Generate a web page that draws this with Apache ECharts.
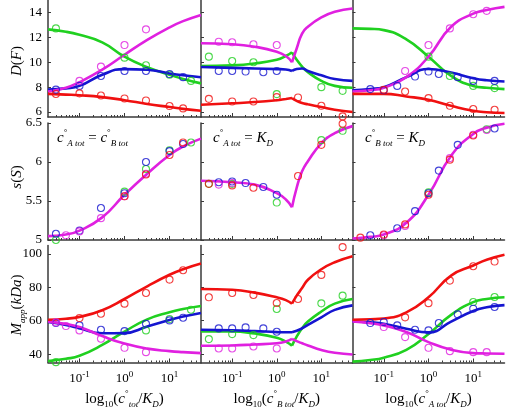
<!DOCTYPE html>
<html><head><meta charset="utf-8">
<script src="https://cdn.jsdelivr.net/npm/echarts@6/dist/echarts.min.js"></script>
<style>html,body{margin:0;padding:0;background:#fff}#c{width:506px;height:410px}</style>
</head><body><div id="c"></div>
<script>
// ---------- x positions ----------
const xFit  = [0.02, 0.05, 0.1, 0.32, 1, 3.2, 10, 20, 50];
const xFitL = [0.02, 0.1, 0.32, 1, 1.6, 2.2];          // middle column, left of kink
const xFitR = [2.2, 2.8, 3.7, 5, 10, 20, 50];           // middle column, right of kink
const xPts1 = [0.03, 0.05, 0.1, 0.3, 1, 3, 10, 20, 30];
const xPts2 = [0.03, 0.05, 0.1, 0.2, 0.3, 0.5, 1, 3, 10, 30];
const xPts3 = [0.03, 0.05, 0.1, 0.2, 0.3, 0.5, 1, 1.7, 3, 4.5, 10, 20, 30];
const xMajor = [0.1, 1, 10];
const xMinor = [0.03,0.04,0.05,0.06,0.07,0.08,0.09,0.2,0.3,0.4,0.5,0.6,0.7,0.8,0.9,2,3,4,5,6,7,8,9,20,30,40];

// ---------- y axes ----------
const yRange = [[5.6, 15], [5, 6.5], [35, 105]];
const yTicks = [[6, 8, 10, 12, 14], [5, 5.5, 6, 6.5], [40, 60, 80, 100]];

// ---------- row 1 : D(F) ----------
const fitD1 = { green:[12.64,12.45,12.2,11.6,10.45,9.6,9.0,8.65,8.3], blue:[7.8,7.9,8.1,9.0,9.45,9.4,9.1,8.95,8.8],
  magenta:[7.65,7.95,8.4,9.4,10.6,11.8,12.8,13.3,13.8], red:[7.46,7.4,7.35,7.2,6.95,6.65,6.4,6.25,6.1] };
const fitD2L = { green:[9.7,9.75,9.9,10.2,10.5,10.8], blue:[9.62,9.55,9.5,9.45,9.42,9.3],
  magenta:[11.52,11.45,11.25,10.85,10.5,10.0], red:[6.58,6.7,6.8,6.95,7.05,7.12] };
const fitD2R = { green:[10.8,10.2,9.65,9.2,8.5,8.1,7.95], blue:[9.3,9.45,9.5,9.3,8.95,8.65,8.5],
  magenta:[10.0,11.1,12.3,12.85,13.6,14.05,14.32], red:[7.12,6.9,6.72,6.62,6.4,6.18,6.0] };
const fitD3 = { green:[12.72,12.68,12.58,11.84,10.45,8.9,8.1,7.95,7.84], blue:[7.75,7.85,8.0,8.8,9.46,9.17,8.72,8.55,8.45],
  magenta:[7.65,7.75,7.95,8.8,10.45,12.85,13.9,14.2,14.45], red:[7.46,7.46,7.46,7.25,6.98,6.5,6.1,5.98,5.92] };
const ptsD1 = { green:[12.72,null,null,null,10.37,9.76,9.0,null,8.5], blue:[7.8,null,8.1,8.9,9.3,9.3,9.05,8.8,null],
  magenta:[null,null,8.5,9.65,11.38,12.64,null,null,null], red:[7.45,null,7.5,7.33,7.09,6.93,6.48,6.29,null] };
const ptsD2 = { green:[10.45,null,10.1,null,10.0,null,7.44,null,8.0,7.7], blue:[null,9.3,9.3,9.25,null,9.2,9.3,null,null,null],
  magenta:[null,11.65,11.6,null,11.44,null,11.38,null,null,null], red:[7.06,null,6.85,null,6.85,null,7.2,7.17,6.5,5.65] };
const ptsD3 = { green:[null,null,null,null,null,null,10.45,null,8.9,null,8.1,null,7.92],
  blue:[null,7.84,7.75,8.1,null,8.85,9.25,9.06,null,8.8,8.5,null,8.5],
  magenta:[null,null,null,null,9.3,null,11.38,null,12.72,null,13.86,14.13,null],
  red:[null,null,7.78,null,7.65,null,7.12,null,6.5,null,6.24,null,6.18] };

// ---------- row 2 : s(S) ----------
const fitS1 = { magenta:[5.05,5.07,5.12,5.29,5.58,5.85,6.09,6.2,6.3] };
const fitS2L = { magenta:[5.76,5.74,5.71,5.6,5.52,5.42] };
const fitS2R = { magenta:[5.42,5.67,5.88,6.01,6.24,6.37,6.46] };
const fitS3 = { magenta:[5.02,5.04,5.07,5.22,5.58,6.08,6.36,6.44,6.49] };
const ptsS1 = { green:[5.0,null,null,null,5.62,5.91,6.15,null,6.25], blue:[5.08,null,5.12,5.41,5.6,6.0,6.14,6.23,null],
  magenta:[null,5.06,5.11,5.28,5.56,5.85,null,null,null], red:[null,null,null,null,5.56,5.84,6.09,6.25,null] };
const ptsS2 = { green:[5.72,null,5.72,null,null,null,5.48,null,6.28,6.4], blue:[null,5.74,5.75,5.73,null,5.68,5.58,null,null,null],
  magenta:[null,5.71,5.73,null,null,null,null,null,null,null], red:[5.72,null,5.70,null,5.67,null,null,5.82,6.22,6.49] };
const ptsS3 = { green:[null,null,null,null,null,null,5.61,null,null,null,null,6.42,null],
  blue:[null,5.06,null,5.15,null,5.37,5.6,5.89,null,6.22,null,null,6.43],
  magenta:[null,null,5.06,null,5.18,null,null,null,6.05,null,6.35,6.41,null],
  red:[5.03,null,5.07,null,5.2,null,5.58,null,6.03,null,6.34,null,null] };

// ---------- row 3 : M_app(kDa) ----------
const fitM1 = { green:[35.8,37.2,39,45.5,53.5,60.8,65.1,67,68.8], blue:[59.3,57.5,55.5,52.5,52.6,56.5,60.5,62.5,64.6],
  magenta:[59.6,58,56.2,50.8,46.3,43.3,41.8,41.2,40.6], red:[60.6,61.2,62.3,66.3,73,80.6,87.5,90.8,94.2] };
const fitM2L = { green:[53.6,53.6,52.3,49.8,47.5,45.1], blue:[54.6,54.3,53.8,53.2,53.1,53.1],
  magenta:[45,45.2,45.8,46.5,47.6,49.2], red:[79,78.5,76.8,74,72.3,70.2] };
const fitM2R = { green:[45.1,50.5,55.5,59.5,65.5,70.2,73], blue:[53.1,54,55.5,57.5,62,66.5,69.2],
  magenta:[49.2,47.8,46.5,45.2,42.5,40.8,39.8], red:[70.2,75,79.5,84.5,90.8,95,98.6] };
const fitM3 = { green:[35.5,36.5,37.9,42.6,52,63.5,71.1,73,74], blue:[59.5,59,58.2,55.2,53,59.5,65.8,68,69.3],
  magenta:[59.6,58.5,57.2,53.2,47.2,42.6,40.6,40.4,40.2], red:[60.6,60.9,61.3,65,74,87,93,96.5,99.5] };
const ptsM1 = { green:[35.2,null,null,null,null,54.2,61,null,66.6], blue:[58.6,null,57.2,54.6,53.8,58.2,60.2,61.8,null],
  magenta:[59,56.8,54.2,49.2,43.8,41.2,null,null,null], red:[null,null,61.6,64.2,70.2,76.6,84.6,90.2,null] };
const ptsM2 = { green:[49,null,52,null,51.4,null,67,null,70.4,75], blue:[null,55.4,55.4,56,null,55.4,53.4,null,null,null],
  magenta:[null,43.4,43.4,null,44.6,null,43.4,null,null,null], red:[74,null,76.6,null,75.4,null,70.6,73,87.4,104] };
const ptsM3 = { green:[null,null,null,null,null,null,null,null,null,null,71.2,null,74.2],
  blue:[null,58.6,59.2,57.2,null,54.6,54.2,58.6,null,63.8,67.2,null,68.2],
  magenta:[null,null,56.2,null,50.2,null,43.8,null,41.8,null,41.2,41.2,null],
  red:[null,null,null,null,62,null,70.5,null,84,null,92.6,null,95.4] };

// ---------- styling / layout ----------
const COLORS = { green:'#20d020', blue:'#1515d0', magenta:'#e020e0', red:'#f01010' };
const ORDER = ['green','blue','magenta','red'];
const SERIF = "'Liberation Serif','DejaVu Serif',serif";
const colL = [48, 201, 352.5], colW = [153, 151.5, 152];
const rowT = [0, 123, 245.5], rowH = 117;

const panels = [
  [ {fits:[[xFit,fitD1]], pts:[xPts1,ptsD1]}, {fits:[[xFitL,fitD2L],[xFitR,fitD2R]], pts:[xPts2,ptsD2]}, {fits:[[xFit,fitD3]], pts:[xPts3,ptsD3]} ],
  [ {fits:[[xFit,fitS1]], pts:[xPts1,ptsS1]}, {fits:[[xFitL,fitS2L],[xFitR,fitS2R]], pts:[xPts2,ptsS2]}, {fits:[[xFit,fitS3]], pts:[xPts3,ptsS3]} ],
  [ {fits:[[xFit,fitM1]], pts:[xPts1,ptsM1]}, {fits:[[xFitL,fitM2L],[xFitR,fitM2R]], pts:[xPts2,ptsM2]}, {fits:[[xFit,fitM3]], pts:[xPts3,ptsM3]} ]
];

function pairs(xs, ys){ const o=[]; xs.forEach((x,i)=>{ if(ys[i]!=null) o.push([x, ys[i]]); }); return o; }

const grids=[], xAxes=[], xMinAxes=[], yAxes=[], series=[];
const axisCol = '#3a3a3a';
for (let r=0;r<3;r++) for (let c=0;c<3;c++){
  const g = r*3+c;
  grids.push({left:colL[c], top:rowT[r], width:colW[c], height:rowH, containLabel:false, outerBoundsMode:'none'});
  xAxes.push({type:'log', logBase:10, gridIndex:g, min:0.02, max:50, position:'bottom',
    axisLine:{show:true, onZero:false, lineStyle:{color:axisCol, width:1.5}},
    axisTick:{show:true, inside:true, length:4, customValues:xMajor, lineStyle:{color:axisCol, width:1}},
    axisLabel:{show:r===2, customValues:xMajor, margin:8,
      formatter:v=>'{b|10}{s|'+Math.round(Math.log10(v))+'}',
      rich:{ b:{fontFamily:SERIF, fontSize:13, color:'#000', lineHeight:16},
             s:{fontFamily:SERIF, fontSize:9, color:'#000', verticalAlign:'top', lineHeight:9} } },
    splitLine:{show:false}, minorTick:{show:false} });
  xMinAxes.push({type:'log', logBase:10, gridIndex:g, min:0.02, max:50, position:'bottom',
    axisLine:{show:false, onZero:false},
    axisTick:{show:true, inside:true, length:2, customValues:xMinor, lineStyle:{color:axisCol, width:1}},
    axisLabel:{show:false}, splitLine:{show:false} });
  yAxes.push({type:'value', gridIndex:g, min:yRange[r][0], max:yRange[r][1], position:'left',
    axisLine:{show:true, onZero:false, lineStyle:{color:axisCol, width:1.5}},
    axisTick:{show:true, inside:true, length:3, customValues:yTicks[r], lineStyle:{color:axisCol}},
    axisLabel:{show:c===0, customValues:yTicks[r], margin:6, fontFamily:SERIF, fontSize:13, color:'#000'},
    splitLine:{show:false} });
  const p = panels[r][c];
  p.fits.forEach(([xs, obj])=>{
    ORDER.forEach(k=>{ if(!obj[k]) return;
      series.push({type:'line', xAxisIndex:g, yAxisIndex:g, data:pairs(xs,obj[k]), smooth:0.5,
        showSymbol:false, symbol:'none', lineStyle:{color:COLORS[k], width:2.6}, z:2, silent:true});
    });
  });
  const [px, pobj] = p.pts;
  ORDER.forEach(k=>{ if(!pobj[k]) return;
    series.push({type:'scatter', xAxisIndex:g, yAxisIndex:g, data:pairs(px,pobj[k]), symbol:'circle', symbolSize:7,
      itemStyle:{color:'rgba(0,0,0,0)', borderColor:COLORS[k], borderWidth:1.1}, z:3, silent:true});
  });
}
// minor-tick axes come after the main axes
const allX = xAxes.concat(xMinAxes);

const RICH = {
  n:{fontFamily:SERIF, fontSize:15, color:'#000', lineHeight:20},
  i:{fontFamily:SERIF, fontSize:15, fontStyle:'italic', color:'#000', lineHeight:20},
  sp:{fontFamily:SERIF, fontSize:9, color:'#000', verticalAlign:'top', lineHeight:9},
  sb:{fontFamily:SERIF, fontSize:9, color:'#000', verticalAlign:'bottom', lineHeight:9},
  sbi:{fontFamily:SERIF, fontSize:9, fontStyle:'italic', color:'#000', verticalAlign:'bottom', lineHeight:9}
};
function txt(x, y, text, opt){
  return Object.assign({type:'text', x:x, y:y, silent:true, z:10,
    style:{text:text, rich:RICH, fill:'#000', fontFamily:SERIF, fontSize:15,
      align:(opt&&opt.align)||'center', verticalAlign:'middle',
      textAlign:(opt&&opt.align)||'center', textVerticalAlign:'middle'}}, opt&&opt.el||{});
}
const xNames = ['{n|log}{sb|10}{n|(}{i|c}{sp|°}{sbi|tot}{n|/}{i|K}{sbi|D}{n|)}',
                '{n|log}{sb|10}{n|(}{i|c}{sp|°}{sbi|B tot}{n|/}{i|K}{sbi|D}{n|)}',
                '{n|log}{sb|10}{n|(}{i|c}{sp|°}{sbi|A tot}{n|/}{i|K}{sbi|D}{n|)}'];
const yNames = ['{i|D}{n|(}{i|F}{n|)}', '{i|s}{n|(}{i|S}{n|)}', '{i|M}{sbi|app}{n|(}{i|kDa}{n|)}'];
const notes = ['{i|c}{sp|°}{sbi|A tot}{n| = }{i|c}{sp|°}{sbi|B tot}',
               '{i|c}{sp|°}{sbi|A tot}{n| = }{i|K}{sbi|D}',
               '{i|c}{sp|°}{sbi|B tot}{n| = }{i|K}{sbi|D}'];
const graphics = [];
for (let c=0;c<3;c++){
  graphics.push(txt(colL[c]+colW[c]/2, 399, xNames[c]));
  graphics.push(txt([57,213,365][c], 138, notes[c], {align:'left'}));
}
const yNameY = [61, 177, 305];
for (let r=0;r<3;r++) graphics.push(txt(17, yNameY[r], yNames[r], {el:{rotation:Math.PI/2}}));

const chart = echarts.init(document.getElementById('c'), null, {renderer:'canvas'});
chart.setOption({
  animation:false, backgroundColor:'#fff',
  grid:grids, xAxis:allX, yAxis:yAxes, series:series, graphic:graphics
});
</script></body></html>
